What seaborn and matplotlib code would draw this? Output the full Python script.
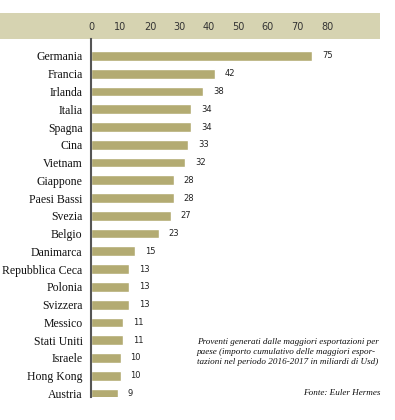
import matplotlib
matplotlib.use("Agg")
import matplotlib.pyplot as plt
from matplotlib.patches import Rectangle
import pandas as pd
import seaborn as sns

# Dati: proventi dalle maggiori esportazioni (miliardi di USD, 2016-2017)
paesi = ['Germania', 'Francia', 'Irlanda', 'Italia', 'Spagna', 'Cina', 'Vietnam',
         'Giappone', 'Paesi Bassi', 'Svezia', 'Belgio', 'Danimarca',
         'Repubblica Ceca', 'Polonia', 'Svizzera', 'Messico', 'Stati Uniti',
         'Israele', 'Hong Kong', 'Austria']
valori = [75, 42, 38, 34, 34, 33, 32, 28, 28, 27, 23, 15, 13, 13, 13, 11, 11, 10, 10, 9]
tick_x = [0, 10, 20, 30, 40, 50, 60, 70, 80]

df = pd.DataFrame({'paese': paesi, 'valore': valori})

sns.set_style('white')
W, H = 395, 420
fig = plt.figure(figsize=(W / 100, H / 100), dpi=100)

# fascia di intestazione
fig.patches.append(Rectangle((0, 1 - 39 / H), 380 / W, 26 / H, transform=fig.transFigure,
                             facecolor='#d6d3b1', edgecolor='none', zorder=-5))

ax = fig.add_axes([91 / W, 1 - 397 / H, (327 - 91) / W, 358 / H])
ax.patch.set_alpha(0)

sns.barplot(data=df, x='valore', y='paese', orient='h', color='#b3ab72',
            saturation=1, width=0.55, ax=ax)

for i, v in enumerate(valori):
    ax.annotate(str(v), xy=(v, i), xytext=(7, 0), textcoords='offset points',
                va='center', ha='left', fontsize=6, color='#222222',
                family='DejaVu Sans', clip_on=False)

ax.set_xlim(0, 80)
ax.set_ylim(19.2, -0.956)
ax.xaxis.tick_top()
ax.set_xticks(tick_x)
ax.tick_params(axis='x', length=0, pad=5, labelsize=7, labelcolor='#333333',
               top=True, labeltop=True, bottom=False, labelbottom=False)
ax.tick_params(axis='y', length=0, pad=6, labelsize=8.5, labelcolor='#111111')
for lab in ax.get_xticklabels():
    lab.set_family('DejaVu Sans')
for lab in ax.get_yticklabels():
    lab.set_family('Liberation Serif')
ax.set_xlabel('')
ax.set_ylabel('')

for s in ['top', 'right', 'bottom']:
    ax.spines[s].set_visible(False)
ax.spines['left'].set_color('#555555')
ax.spines['left'].set_linewidth(1.5)

fig.text(197 / W, 1 - 352 / H,
         'Proventi generati dalle maggiori esportazioni per\n'
         'paese (importo cumulativo delle maggiori espor-\n'
         'tazioni nel periodo 2016-2017 in miliardi di Usd)',
         ha='left', va='center', fontsize=6.6, style='italic',
         family='Liberation Serif', color='#111111', linespacing=1.3)
fig.text(380 / W, 1 - 393 / H, 'Fonte: Euler Hermes', ha='right', va='center',
         fontsize=6.6, style='italic', family='Liberation Serif', color='#111111')

fig.savefig('out.png', dpi=100)
